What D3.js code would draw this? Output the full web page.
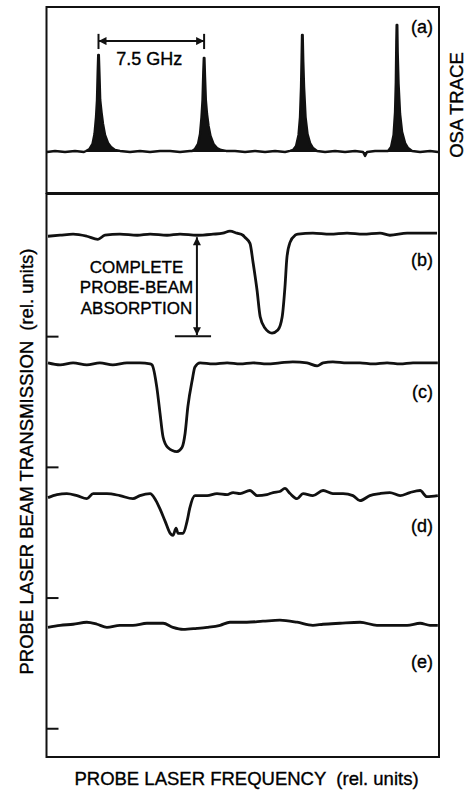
<!DOCTYPE html>
<html>
<head>
<meta charset="utf-8">
<script src="https://cdn.jsdelivr.net/npm/d3@7"></script>
<style>
  body { margin: 0; background: #fff; }
  svg text { font-family: "Liberation Sans", Arial, Helvetica, sans-serif; fill: #000; stroke: #000; stroke-width: 0.35px; }
</style>
</head>
<body>
<svg id="chart"></svg>
<script>
// OSA trace: [frequency (rel. units), intensity]
const osaTrace = [
  [0.25, 0], [2.29, 0.008], [4.84, 0], [7.38, 0.008], [9.67, 0],
  [10.18, 0.008], [11.07, 0.023], [11.83, 0.061], [12.34, 0.136], [12.73, 0.265],
  [12.98, 0.394], [13.16, 0.606], [13.29, 0.735], [13.44, 0.735], [13.62, 0.568],
  [13.79, 0.394], [14.12, 0.303], [14.51, 0.212], [15.02, 0.129], [15.78, 0.068],
  [16.54, 0.038], [17.56, 0.015], [18.83, 0.008], [21.38, 0], [23.92, 0.008],
  [26.47, 0], [29.01, 0.008], [31.56, 0.008], [34.1, 0], [36.65, 0.008],
  [37.16, 0.008], [37.92, 0.023], [38.68, 0.061], [39.19, 0.136], [39.57, 0.265],
  [39.83, 0.394], [40.03, 0.606], [40.16, 0.712], [40.31, 0.712], [40.46, 0.568],
  [40.67, 0.394], [40.97, 0.288], [41.36, 0.197], [41.86, 0.121], [42.63, 0.061],
  [43.52, 0.03], [44.54, 0.015], [45.81, 0.008], [48.1, 0.008], [50.65, 0],
  [53.19, 0.008], [55.74, 0], [58.28, 0.008], [60.83, 0], [62.1, 0.008],
  [62.86, 0.015], [63.63, 0.045], [64.26, 0.129], [64.64, 0.265], [64.9, 0.492],
  [65.05, 0.72], [65.15, 0.886], [65.31, 0.886], [65.46, 0.682], [65.66, 0.492],
  [66.04, 0.265], [66.55, 0.136], [67.19, 0.068], [67.95, 0.03], [68.97, 0.008],
  [71.01, 0], [73.55, 0.008], [76.1, 0], [78.64, 0.008], [80.68, 0],
  [81.19, -0.03], [81.69, 0], [83.73, 0.008], [87.04, 0.008], [87.8, 0.038],
  [88.44, 0.129], [88.82, 0.303], [89.02, 0.53], [89.15, 0.833], [89.23, 0.962],
  [89.38, 0.962], [89.48, 0.758], [89.71, 0.515], [90.09, 0.288], [90.6, 0.152],
  [91.37, 0.068], [92.13, 0.03], [93.15, 0.008], [95.18, 0], [97.73, 0.008],
  [99.76, 0]
];

// probe transmission traces: [frequency (rel. units), transmission]
const traceB = [
  [0.5, 0.98], [3.6, 0.99], [6.9, 1.0], [10.4, 0.98], [13.2, 0.95], [15.0, 0.99],
  [18.8, 1.0], [23.2, 0.99], [26.5, 1.0], [30.8, 0.99], [34.1, 1.0], [38.4, 0.99],
  [42.5, 1.0], [45.0, 1.01], [46.8, 1.03], [48.6, 1.01], [50.1, 0.99], [50.6, 0.97],
  [51.9, 0.91], [52.7, 0.72], [53.7, 0.45], [54.5, 0.19], [55.7, 0.08], [57.5, 0.03],
  [59.0, 0.06], [60.1, 0.19], [60.8, 0.48], [61.3, 0.77], [62.1, 0.92], [63.4, 0.99],
  [64.1, 1.0], [67.9, 1.01], [72.3, 1.0], [76.6, 1.01], [80.7, 1.0], [85.0, 1.01],
  [87.5, 0.99], [91.9, 1.01], [95.9, 1.01], [99.5, 1.01]
];
const traceC = [
  [0.5, 1.02], [3.6, 1.0], [6.9, 1.02], [10.4, 1.0], [13.7, 1.02], [17.0, 1.0],
  [20.6, 1.02], [23.9, 1.02], [26.5, 1.01], [27.0, 1.0], [28.2, 0.78], [29.0, 0.53],
  [29.8, 0.29], [31.0, 0.19], [33.3, 0.15], [34.6, 0.19], [35.4, 0.33], [36.1, 0.59],
  [37.2, 0.85], [37.9, 0.98], [39.2, 1.02], [42.5, 1.01], [46.1, 1.02], [49.4, 1.01],
  [52.7, 1.02], [56.2, 1.01], [59.5, 1.02], [62.8, 1.03], [66.4, 1.02], [69.0, 0.99],
  [70.5, 1.02], [73.0, 1.03], [76.6, 1.02], [79.9, 1.02], [83.2, 1.01], [86.8, 1.02],
  [90.1, 1.01], [93.4, 1.02], [96.9, 1.02], [99.7, 1.02]
];
const traceD = [
  [0.5, 0.98], [2.8, 1.01], [5.3, 1.02], [7.9, 1.0], [10.4, 0.97], [12.0, 1.02],
  [15.5, 1.02], [18.8, 1.0], [22.1, 0.97], [23.9, 1.0], [26.5, 1.02], [27.7, 0.97],
  [29.0, 0.87], [30.3, 0.75], [31.6, 0.63], [32.3, 0.61], [33.1, 0.68], [33.6, 0.63],
  [34.9, 0.63], [35.9, 0.75], [36.6, 0.88], [37.9, 1.0], [41.0, 1.0], [43.5, 1.02],
  [46.1, 1.01], [47.6, 1.03], [49.4, 1.02], [51.9, 1.05], [53.7, 1.0], [56.2, 1.01],
  [57.8, 1.03], [59.5, 1.04], [60.8, 1.07], [62.1, 1.02], [63.9, 0.97], [65.4, 1.02],
  [67.9, 1.0], [70.5, 1.05], [73.0, 1.02], [75.6, 1.02], [78.1, 1.0], [79.9, 0.95],
  [82.4, 1.0], [85.0, 1.02], [87.5, 1.03], [90.1, 1.0], [92.6, 1.03], [95.2, 1.05],
  [96.9, 0.99], [99.7, 1.0]
];
const traceE = [
  [0.5, 0.99], [3.6, 1.01], [6.9, 1.02], [10.4, 1.04], [13.0, 1.02], [15.5, 0.99],
  [18.8, 1.01], [22.1, 1.01], [25.7, 1.03], [29.8, 1.03], [32.3, 0.99], [34.9, 0.97],
  [38.4, 0.98], [41.0, 0.99], [44.3, 1.01], [46.8, 1.04], [51.1, 1.04], [55.2, 1.05],
  [59.5, 1.06], [63.9, 1.04], [67.9, 1.01], [70.5, 1.02], [74.8, 1.03], [79.9, 1.04],
  [84.2, 1.01], [88.3, 1.01], [91.9, 1.01], [95.2, 1.03], [97.7, 1.01], [99.7, 1.01]
];

const traces = [traceB, traceC, traceD, traceE];
const traceLabels = ["(b)", "(c)", "(d)", "(e)"];
const traceOffsets = [3, 2, 1, 0];
const yTickValues = [0, 1, 2, 3];

// 7.5 GHz spacing marker between the first two OSA peaks
const spacingFrom = 13.36;
const spacingTo = 40.23;
const spacingLabel = "7.5 GHz";

const width = 467;
const height = 791;
const left = 46.5;
const right = 439;
const topA = 7, bottomA = 193;
const topB = 194, bottomB = 757;
const gain = 0.78; // vertical size of one transmission unit in offset units

const svg = d3.select("#chart").attr("width", width).attr("height", height);

const x = d3.scaleLinear().domain([0, 100]).range([46, 439]);
const yA = d3.scaleLinear().domain([0, 1]).range([152, 20]);
const y = d3.scaleLinear().domain([-0.22, 4.08]).range([bottomB, topB + 1]);

// ---- panel (a) ----
svg.append("path")
  .datum(osaTrace)
  .attr("d", d3.area().x((d) => x(d[0])).y0(yA(0)).y1((d) => yA(d[1])))
  .attr("fill", "#111");

svg.append("path")
  .datum(osaTrace)
  .attr("d", d3.line().x((d) => x(d[0])).y((d) => yA(d[1])))
  .attr("fill", "none")
  .attr("stroke", "#111")
  .attr("stroke-width", 2.4)
  .attr("stroke-linejoin", "round");

svg.append("rect")
  .attr("x", left).attr("y", topA)
  .attr("width", right - left).attr("height", bottomA - topA)
  .attr("fill", "none").attr("stroke", "#111").attr("stroke-width", 2);

const defs = svg.append("defs");
defs.append("marker")
  .attr("id", "head")
  .attr("viewBox", "0 0 10 10")
  .attr("refX", 10).attr("refY", 5)
  .attr("markerWidth", 10).attr("markerHeight", 8)
  .attr("markerUnits", "userSpaceOnUse")
  .attr("orient", "auto-start-reverse")
  .append("path")
  .attr("d", "M0,0L10,5L0,10z")
  .attr("fill", "#111");

const gA = svg.append("g");
gA.append("line")
  .attr("x1", x(spacingFrom)).attr("x2", x(spacingTo))
  .attr("y1", yA(0.84)).attr("y2", yA(0.84))
  .attr("stroke", "#111").attr("stroke-width", 2)
  .attr("marker-start", "url(#head)").attr("marker-end", "url(#head)");
[spacingFrom, spacingTo].forEach((v) =>
  gA.append("line")
    .attr("x1", x(v)).attr("x2", x(v))
    .attr("y1", yA(0.895)).attr("y2", yA(0.78))
    .attr("stroke", "#111").attr("stroke-width", 2)
);
gA.append("text")
  .attr("x", x((spacingFrom + spacingTo) / 2) - 2)
  .attr("y", 65)
  .attr("text-anchor", "middle")
  .attr("font-size", 18)
  .text(spacingLabel);

svg.append("text")
  .attr("x", 433).attr("y", 33)
  .attr("text-anchor", "end")
  .attr("font-size", 18)
  .text("(a)");

svg.append("text")
  .attr("transform", "translate(463,105) rotate(-90)")
  .attr("text-anchor", "middle")
  .attr("font-size", 18.5)
  .text("OSA  TRACE");

// ---- panels (b)-(e) ----
traces.forEach((t, i) => {
  const off = traceOffsets[i];
  svg.append("path")
    .datum(t)
    .attr("d", d3.line()
      .curve(d3.curveMonotoneX)
      .x((d) => x(d[0]))
      .y((d) => y(off + d[1] * gain)))
    .attr("fill", "none")
    .attr("stroke", "#111")
    .attr("stroke-width", 2.8)
    .attr("stroke-linejoin", "round");
});

const labelLevels = [0.54, 0.53, 0.5, 0.46];
svg.append("g")
  .selectAll("text")
  .data(traceLabels)
  .join("text")
  .attr("x", 433)
  .attr("y", (d, i) => y(traceOffsets[i] + labelLevels[i]))
  .attr("text-anchor", "end")
  .attr("font-size", 18)
  .text((d) => d);

svg.append("g")
  .attr("transform", `translate(${left},0)`)
  .call(d3.axisLeft(y).tickValues(yTickValues).tickSize(-12).tickFormat(""))
  .call((g) => g.select(".domain").remove())
  .call((g) => g.selectAll(".tick line").attr("stroke", "#111").attr("stroke-width", 2));

svg.append("rect")
  .attr("x", left).attr("y", topB)
  .attr("width", right - left).attr("height", bottomB - topB)
  .attr("fill", "none").attr("stroke", "#111").attr("stroke-width", 2);

// complete absorption marker on trace (b)
const ax = 38.4;
const gB = svg.append("g");
gB.append("line")
  .attr("x1", x(ax)).attr("x2", x(ax))
  .attr("y1", y(traceOffsets[0] + gain) + 3).attr("y2", y(traceOffsets[0]) - 1)
  .attr("stroke", "#111").attr("stroke-width", 2)
  .attr("marker-start", "url(#head)").attr("marker-end", "url(#head)");
gB.append("line")
  .attr("x1", x(32.8)).attr("x2", x(42.0))
  .attr("y1", y(traceOffsets[0])).attr("y2", y(traceOffsets[0]))
  .attr("stroke", "#111").attr("stroke-width", 2);
gB.selectAll("text")
  .data(["COMPLETE", "PROBE-BEAM", "ABSORPTION"])
  .join("text")
  .attr("x", 136.5)
  .attr("y", (d, i) => 272.5 + i * 20.8)
  .attr("text-anchor", "middle")
  .attr("font-size", 17)
  .text((d) => d);

// axis titles
const yTitle = svg.append("text")
  .attr("transform", "translate(33,461.5) rotate(-90)")
  .attr("text-anchor", "middle")
  .attr("font-size", 18.5);
yTitle.append("tspan").text("PROBE LASER BEAM TRANSMISSION");
yTitle.append("tspan").attr("dx", 10).text("(rel. units)");

const xTitle = svg.append("text")
  .attr("x", 246.5).attr("y", 785)
  .attr("text-anchor", "middle")
  .attr("font-size", 18.5);
xTitle.append("tspan").text("PROBE LASER FREQUENCY");
xTitle.append("tspan").attr("dx", 10).text("(rel. units)");
</script>
</body>
</html>
